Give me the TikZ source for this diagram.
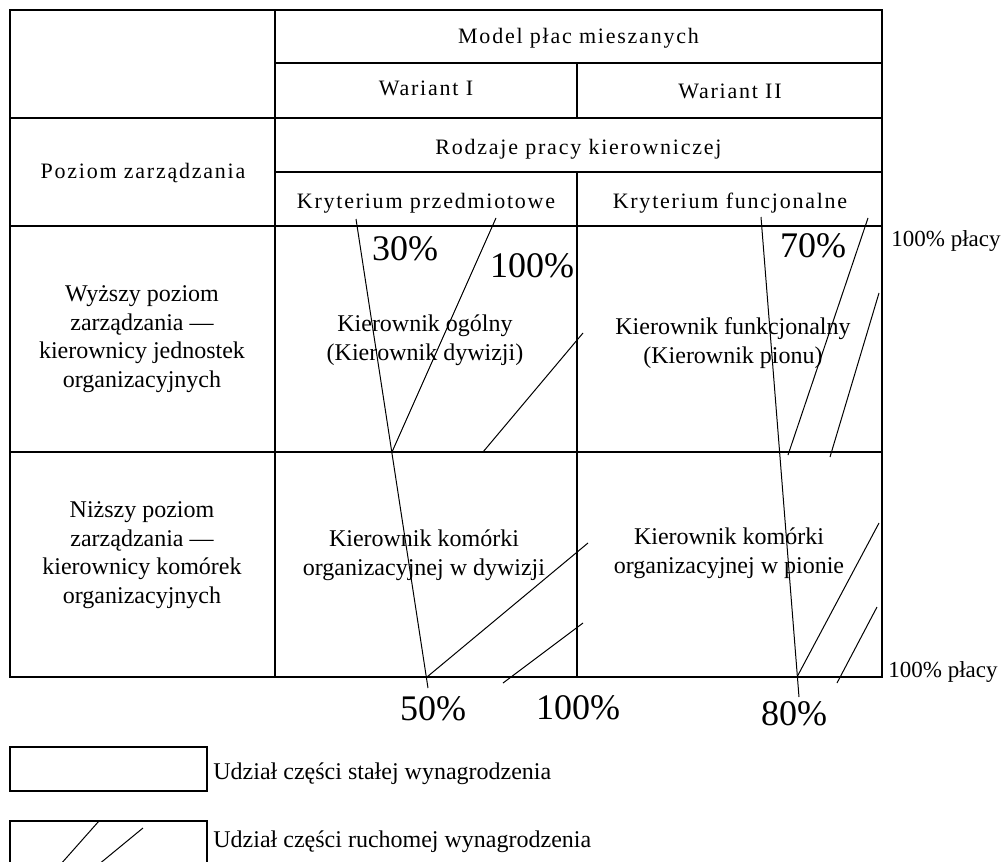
\documentclass[tikz,border=0pt]{standalone}
\usepackage{fontspec}
\setmainfont{Liberation Serif}
\newfontfamily\headfont[LetterSpace=8]{Liberation Serif}
\usepackage{tikz}

\begin{document}
\begin{tikzpicture}[x=0.5pt, y=-0.5pt,
    grid/.style={line width=0.9pt},
    hatch/.style={line width=0.5pt},
    head/.style={anchor=base, inner sep=0pt, font=\headfont\fontsize{11}{13}\selectfont},
    cell/.style={align=center, inner sep=0pt, font=\fontsize{12}{14.25}\selectfont},
    pct/.style={anchor=base, inner sep=0pt, font=\fontsize{18}{20}\selectfont},
    side/.style={anchor=base west, inner sep=0pt, font=\fontsize{11.5}{13}\selectfont},
    legbox/.style={draw, line width=0.7pt, minimum width=98.5pt, minimum height=22pt, inner sep=0pt},
    legtext/.style={anchor=base west, inner sep=0pt, font=\fontsize{12}{14}\selectfont}]
    \useasboundingbox (0,0) rectangle (1003,862);

    % table frame
    \draw[grid] (10,10) rectangle (882,677);
    \draw[grid] (275,10) -- (275,677);
    \draw[grid] (275,63) -- (882,63);
    \draw[grid] (10,118) -- (882,118);
    \draw[grid] (275,172) -- (882,172);
    \draw[grid] (10,226) -- (882,226);
    \draw[grid] (10,452) -- (882,452);
    \draw[grid] (577,63) -- (577,118);
    \draw[grid] (577,172) -- (577,677);

    % header cells
    \node[head] (model) at (578.5,43) {Model płac mieszanych};
    \node[head] (war1) at (426,95) {Wariant I};
    \node[head] (war2) at (730,98) {Wariant II};
    \node[head] (rodzaje) at (578.5,154) {Rodzaje pracy kierowniczej};
    \node[head] (poziom) at (143,178) {Poziom zarządzania};
    \node[head] (przedm) at (426,208) {Kryterium przedmiotowe};
    \node[head] (funkc) at (730,208) {Kryterium funcjonalne};

    % body cells
    \node[cell] (wyzszy) at (142,339) {Wyższy poziom\\zarządzania —\\kierownicy jednostek\\organizacyjnych};
    \node[cell] (nizszy) at (142,555) {Niższy poziom\\zarządzania —\\kierownicy komórek\\organizacyjnych};
    \node[cell] (ogolny) at (425,340) {Kierownik ogólny\\(Kierownik dywizji)};
    \node[cell] (funkcj) at (733,343) {Kierownik funkcjonalny\\(Kierownik pionu)};
    \node[cell] (komdyw) at (424,555) {Kierownik komórki\\organizacyjnej w dywizji};
    \node[cell] (kompion) at (729,553) {Kierownik komórki\\organizacyjnej w pionie};

    % percentages
    \node[pct] (p30) at (405,260) {30\%};
    \node[pct] (p100a) at (532,277) {100\%};
    \node[pct] (p70) at (813,257) {70\%};
    \node[pct] (p50) at (433,720) {50\%};
    \node[pct] (p100b) at (578,719) {100\%};
    \node[pct] (p80) at (794,725) {80\%};
    \node[side] (placa1) at (891,246) {100\% płacy};
    \node[side] (placa2) at (888,677) {100\% płacy};

    % share lines
    \coordinate (a1) at (356,219); \coordinate (a2) at (428,688);
    \coordinate (b1) at (496,218); \coordinate (b2) at (392,452);
    \coordinate (c1) at (583,333); \coordinate (c2) at (483,452);
    \coordinate (d1) at (761,217); \coordinate (d2) at (799,697);
    \coordinate (e1) at (868,218); \coordinate (e2) at (788,455);
    \coordinate (f1) at (879,293); \coordinate (f2) at (830,457);
    \coordinate (g1) at (879,523); \coordinate (g2) at (797,677);
    \coordinate (h1) at (877,607); \coordinate (h2) at (837,683);
    \coordinate (i1) at (588,543); \coordinate (i2) at (427,677);
    \coordinate (j1) at (583,623); \coordinate (j2) at (503,683);
    \draw[hatch] (a1) -- (a2); \draw[hatch] (b1) -- (b2); \draw[hatch] (c1) -- (c2);
    \draw[hatch] (d1) -- (d2); \draw[hatch] (e1) -- (e2); \draw[hatch] (f1) -- (f2);
    \draw[hatch] (g1) -- (g2); \draw[hatch] (h1) -- (h2);
    \draw[hatch] (i1) -- (i2); \draw[hatch] (j1) -- (j2);

    % legend
    \node[legbox] (stalabox) at (108.5,769) {};
    \node[legtext] (stala) at (213,779) {Udział części stałej wynagrodzenia};
    \node[legbox] (ruchbox) at (108.5,843) {};
    \node[legtext] (ruch) at (213,847) {Udział części ruchomej wynagrodzenia};
    \coordinate (k1) at (99,821); \coordinate (k2) at (60,865);
    \coordinate (l1) at (143,828); \coordinate (l2) at (98,865);
    \draw[hatch] (k1) -- (k2); \draw[hatch] (l1) -- (l2);
\end{tikzpicture}
\end{document}
